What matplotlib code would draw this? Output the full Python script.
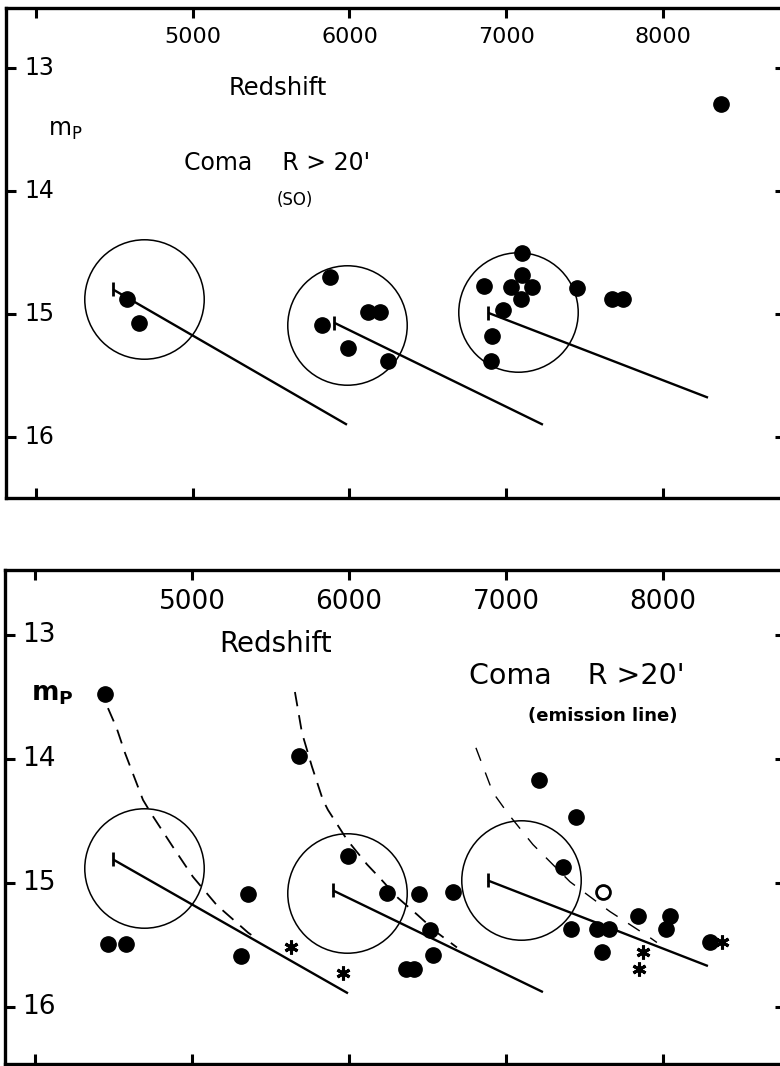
import matplotlib
matplotlib.use('Agg')
import matplotlib.pyplot as plt

plt.rcParams['font.family'] = ['DejaVu Sans']

# ---- top panel: Coma R > 20' (S0) ----
s0_v = [4580, 4657, 5875, 5824, 5990, 6118, 6194, 6245,
        7100, 7100, 7030, 7164, 7094, 6858, 7451, 6979, 6909, 6903,
        7675, 7745, 8370]
s0_m = [14.88, 15.07, 14.70, 15.09, 15.28, 14.98, 14.98, 15.38,
        14.50, 14.68, 14.78, 14.78, 14.88, 14.77, 14.79, 14.97, 15.18, 15.38,
        14.88, 14.88, 13.29]

# circles (centre) and the three reference lines (start, end)
circ_v = [4689, 5984, 7075]
circ_m = [14.88, 15.09, 14.98]
line_v0 = [4491, 5901, 6884]
line_m0 = [14.80, 15.07, 14.99]
line_v1 = [5984, 7234, 8287]
line_m1 = [15.90, 15.90, 15.68]

# ---- bottom panel: Coma R > 20' (emission line) ----
em_v = [4446, 5682, 4465, 4580, 5357, 5312, 5994, 6242, 6446, 6662, 6516,
        6535, 6363, 6414, 7446, 7210, 7363, 7414, 7580, 7656, 7611, 7841,
        8045, 8019, 8299]
em_m = [13.48, 13.98, 15.49, 15.49, 15.09, 15.59, 14.78, 15.08, 15.09, 15.07,
        15.38, 15.58, 15.69, 15.69, 14.47, 14.17, 14.87, 15.37, 15.37, 15.37,
        15.56, 15.27, 15.27, 15.37, 15.48]
star_v = [5631, 5962, 8376, 7873, 7847]
star_m = [15.52, 15.73, 15.48, 15.56, 15.69]
open_v = [7618]
open_m = [15.07]

circ2_v = [4694, 5990, 7096]
circ2_m = [14.88, 15.08, 14.98]
line2_v0 = [4497, 5898, 6885]
line2_m0 = [14.81, 15.06, 14.98]
line2_v1 = [5994, 7236, 8287]
line2_m1 = [15.89, 15.88, 15.67]

dash1_v = [4465, 4520, 4573, 4688, 4745, 4879, 5006, 5159, 5357, 5401]
dash1_m = [13.59, 13.75, 13.95, 14.33, 14.45, 14.71, 14.95, 15.18, 15.40, 15.44]
dash2_v = [5656, 5701, 5764, 5834, 5866, 5987, 6115, 6197, 6312, 6439, 6561, 6688]
dash2_m = [13.46, 13.79, 14.06, 14.33, 14.41, 14.65, 14.85, 14.96, 15.12, 15.26, 15.40, 15.52]
dash3_v = [6809, 6917, 7013, 7172, 7408, 7662, 7917, 7962]
dash3_m = [13.91, 14.27, 14.44, 14.69, 14.99, 15.23, 15.44, 15.48]

xticks = [4000, 5000, 6000, 7000, 8000]
xticklabels = ['', '5000', '6000', '7000', '8000']
yticks = [13, 14, 15, 16]


def frame(ax, ylim, xsize, ysize, xpad, ypad):
    ax.set_xlim(3809, 8778)
    ax.set_ylim(*ylim)
    ax.spines['right'].set_visible(False)
    for s in ['left', 'top', 'bottom']:
        ax.spines[s].set_linewidth(2.4)
    ax.set_xticks(xticks)
    ax.set_xticklabels(xticklabels)
    ax.set_yticks(yticks)
    ax.set_yticklabels([str(t) for t in yticks])
    ax.tick_params(direction='in', length=7.5, width=2.2,
                   top=True, bottom=True, left=True, right=True,
                   labeltop=True, labelbottom=False)
    ax.tick_params(axis='x', labelsize=xsize, pad=-xpad)
    ax.tick_params(axis='y', labelsize=ysize, pad=-ypad)
    plt.setp(ax.get_xticklabels(), va='center')
    plt.setp(ax.get_yticklabels(), ha='center', va='center')


def marks(ax, cv, cm, v0, m0, v1, m1):
    ax.plot(cv, cm, 'o', ms=86, mfc='none', mec='k', mew=1.1, ls='none')
    for a, b, c, d in zip(v0, m0, v1, m1):
        ax.plot([a, c], [b, d], color='k', lw=1.7, solid_capstyle='butt')
    ax.plot(v0, m0, '|', ms=10, mew=2, color='k', ls='none')


fig = plt.figure(figsize=(7.8, 10.66), dpi=100)

# top panel
ax1 = fig.add_axes([6/780, 1 - 498/1066, (785 - 6)/780, 490/1066])
ax1.set_facecolor('none')
frame(ax1, (16.496, 12.512), 16, 17, 21, 24)
marks(ax1, circ_v, circ_m, line_v0, line_m0, line_v1, line_m1)
ax1.plot(s0_v, s0_m, 'o', color='k', ms=11, ls='none')
ax1.text(5541, 13.16, 'Redshift', fontsize=17.5, ha='center', va='center')
ax1.text(4190, 13.5, r'$\mathregular{m_P}$', fontsize=17, ha='center', va='center')
ax1.text(5540, 13.77, "Coma    R > 20'", fontsize=17, ha='center', va='center')
ax1.text(5650, 14.07, '(SO)', fontsize=12, ha='center', va='center')

# bottom panel
ax2 = fig.add_axes([5/780, 1 - 1064/1066, (785 - 5)/780, (1064 - 570)/1066])
ax2.set_facecolor('none')
frame(ax2, (16.46, 12.476), 19, 19, 23, 24.5)
marks(ax2, circ2_v, circ2_m, line2_v0, line2_m0, line2_v1, line2_m1)
ax2.plot(dash1_v, dash1_m, color='k', lw=1.3, dashes=(8, 5))
ax2.plot(dash2_v, dash2_m, color='k', lw=1.3, dashes=(8, 5))
ax2.plot(dash3_v, dash3_m, color='k', lw=1.0, dashes=(10, 9))
ax2.plot(em_v, em_m, 'o', color='k', ms=11, ls='none')
ax2.plot(star_v, star_m, marker=(6, 2, 0), color='k', ms=10, mew=2.2, ls='none')
ax2.plot(open_v, open_m, 'o', mfc='white', mec='k', ms=10, mew=2, ls='none')
ax2.text(5530, 13.07, 'Redshift', fontsize=20, ha='center', va='center')
ax2.text(4110, 13.48, r'$\mathregular{m_P}$', fontsize=19, ha='center', va='center',
         fontweight='bold')
ax2.text(7450, 13.33, "Coma    R >20'", fontsize=20.5, ha='center', va='center')
ax2.text(7620, 13.65, '(emission line)', fontsize=13, ha='center', va='center',
         fontweight='bold')

fig.savefig('out.png', dpi=100)
